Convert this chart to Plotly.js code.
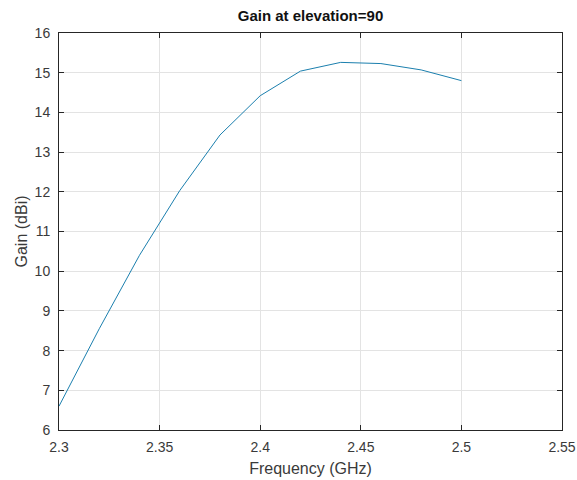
<!DOCTYPE html>
<html>
<head>
<meta charset="utf-8">
<script src="https://cdn.plot.ly/plotly-3.0.1.min.js"></script>
<style>html,body{margin:0;padding:0;background:#fff;}#chart{width:577px;height:480px;}</style>
</head>
<body>
<div id="chart"></div>
<script>
var frequencyGHz = [2.30, 2.32, 2.34, 2.36, 2.38, 2.40, 2.42, 2.44, 2.46, 2.48, 2.50];
var gainDBi = [6.6, 8.55, 10.4, 12.03, 13.43, 14.42, 15.04, 15.26, 15.23, 15.07, 14.8];
var xTickVals = [2.3, 2.35, 2.4, 2.45, 2.5, 2.55];
var xTickText = ["2.3", "2.35", "2.4", "2.45", "2.5", "2.55"];
var yTickVals = [6, 7, 8, 9, 10, 11, 12, 13, 14, 15, 16];

var fontFam = "Liberation Sans, Arial, sans-serif";
var axisCol = "#262626";
var labelCol = "#3a3a3a";

var trace = {
  x: frequencyGHz,
  y: gainDBi,
  type: "scatter",
  mode: "lines",
  line: {color: "#1b7fae", width: 1},
  hoverinfo: "none"
};

var layout = {
  width: 577,
  height: 480,
  margin: {l: 59, r: 15, t: 33, b: 50, pad: 0},
  paper_bgcolor: "#ffffff",
  plot_bgcolor: "#ffffff",
  showlegend: false,
  title: {
    text: "<b>Gain at elevation=90</b>",
    font: {family: fontFam, size: 15, color: "#111111"},
    x: 0.5, xref: "paper", xanchor: "center",
    y: 1 - 16/480, yref: "container", yanchor: "middle"
  },
  xaxis: {
    range: [2.3, 2.55],
    tickmode: "array",
    tickvals: xTickVals,
    ticktext: xTickText,
    ticks: "inside",
    ticklen: 5,
    tickcolor: axisCol,
    showline: true,
    linecolor: axisCol,
    linewidth: 1,
    mirror: "ticks",
    showgrid: true,
    gridcolor: "#e3e3e3",
    gridwidth: 1,
    zeroline: false,
    tickfont: {family: fontFam, size: 14, color: labelCol},
    ticklabelstandoff: 4,
    title: {text: "Frequency (GHz)", font: {family: fontFam, size: 16, color: labelCol}, standoff: 9}
  },
  yaxis: {
    range: [6, 16],
    tickmode: "array",
    tickvals: yTickVals,
    ticks: "inside",
    ticklen: 5,
    tickcolor: axisCol,
    showline: true,
    linecolor: axisCol,
    linewidth: 1,
    mirror: "ticks",
    showgrid: true,
    gridcolor: "#e3e3e3",
    gridwidth: 1,
    zeroline: false,
    tickfont: {family: fontFam, size: 14, color: labelCol},
    ticklabelstandoff: 5,
    title: {text: "Gain (dBi)", font: {family: fontFam, size: 16, color: labelCol}, standoff: 3}
  }
};

Plotly.newPlot("chart", [trace], layout, {displayModeBar: false, staticPlot: true});
</script>
</body>
</html>
